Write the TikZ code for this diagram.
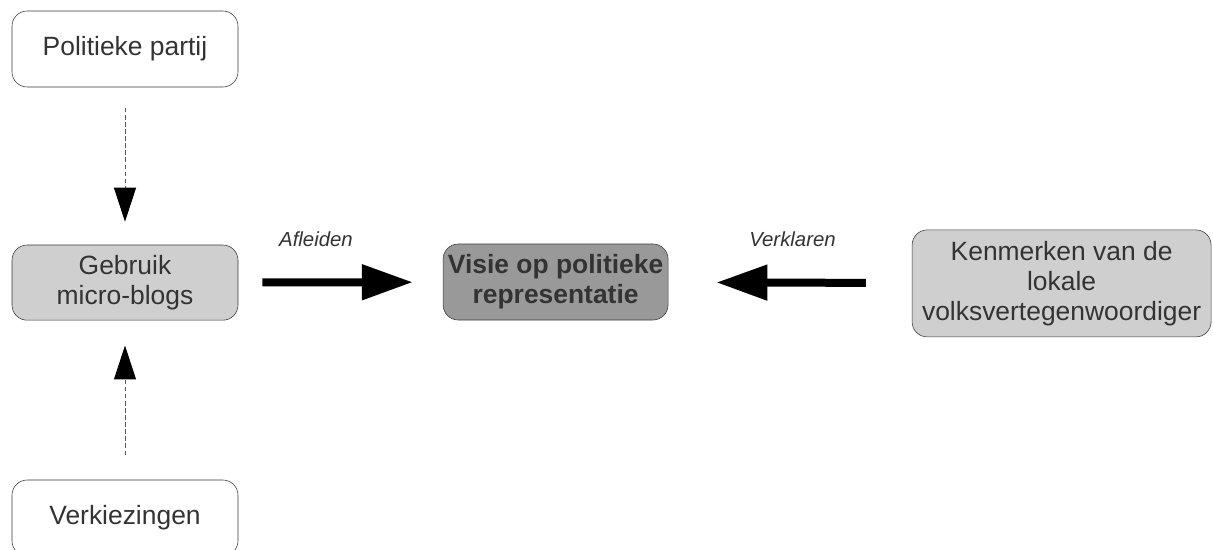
\documentclass[tikz,border=0pt]{standalone}
\usepackage{fontspec}
\setmainfont{Liberation Sans}
\usetikzlibrary{arrows.meta}

\definecolor{boxline}{HTML}{3A3A3A}
\definecolor{boxtext}{HTML}{333333}
\definecolor{lightfill}{HTML}{CFCFCF}
\definecolor{darkfill}{HTML}{999999}

\tikzset{
  factor/.style={draw=boxline, rounded corners=0.38cm, text=boxtext, align=center,
    inner sep=0pt, font=\fontsize{18.8}{21.5}\selectfont},
  influence/.style={draw=gray!70!black, line width=0.7pt, dash pattern=on 3pt off 2pt,
    -{Triangle[length=0.85cm, width=0.55cm, color=black]}},
  relation/.style={line width=0.2cm, -{Triangle[length=1.275cm, width=0.85cm]}},
  verb/.style={text=boxtext, font=\fontsize{14.5}{16}\selectfont\itshape}
}

\begin{document}
\begin{tikzpicture}
  \useasboundingbox (0,0) rectangle (30.325,13.725);

  \node[factor, minimum width=5.65cm, minimum height=1.9cm] (partij) at (3.125,12.5) {Politieke partij};
  \node[factor, fill=lightfill, minimum width=5.65cm, minimum height=1.88cm] (blogs) at (3.125,6.66) {Gebruik\\micro-blogs};
  \node[factor, fill=darkfill, minimum width=5.625cm, minimum height=1.9cm, font=\fontsize{18.8}{21.5}\selectfont\bfseries] (visie) at (13.89,6.675) {Visie op politieke\\representatie};
  \node[factor, fill=lightfill, minimum width=7.475cm, minimum height=2.675cm] (kenmerken) at (26.54,6.64) {Kenmerken van de\\lokale\\volksvertegenwoordiger};
  \node[factor, minimum width=5.65cm, minimum height=1.9cm] (verkiezingen) at (3.125,0.775) {Verkiezingen};

  \draw[influence, shorten <=0.525cm, shorten >=0.575cm] (partij) -- (blogs);
  \draw[influence, shorten <=0.625cm, shorten >=0.625cm] (verkiezingen) -- (blogs);

  \draw[relation, shorten <=0.6cm, shorten >=0.75cm] (blogs) -- (visie)
    node[verb, pos=0.38, yshift=1.075cm] {Afleiden};
  \draw[relation, shorten <=1.15cm, shorten >=1.2cm] (kenmerken) -- (visie)
    node[verb, pos=0.49, yshift=1.075cm] {Verklaren};
\end{tikzpicture}
\end{document}
